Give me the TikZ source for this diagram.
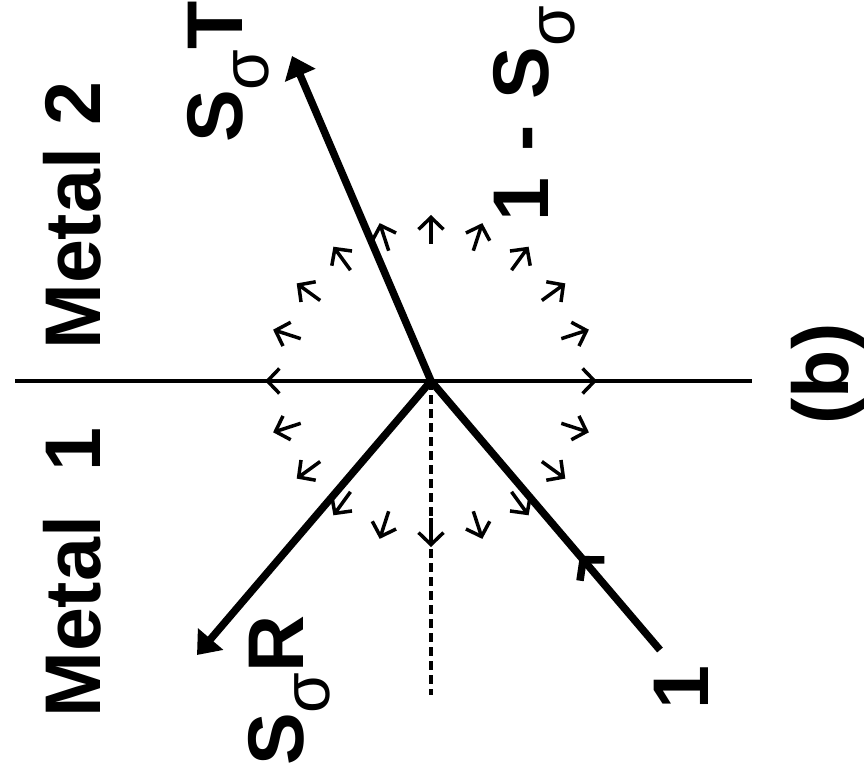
\documentclass[tikz,border=0pt]{standalone}
\usepackage{fontspec}
\setmainfont{Liberation Sans}
\usepackage{tikz}
\usetikzlibrary{arrows.meta,decorations.markings,positioning}

\newcommand{\sig}{\raisebox{-26pt}{\fontsize{66}{66}\selectfont\mdseries σ}}

\begin{document}
\begin{tikzpicture}[
    x=1pt, y=-1pt,
    lbl/.style={rotate=90, inner sep=0pt, font=\fontsize{79}{79}\selectfont\bfseries},
    beam/.style={line width=7.5pt, -{Triangle[length=21pt,width=32pt]}},
    wall/.style={line width=4pt},
    flux/.style={line width=3.5pt, -{Straight Barb[length=12pt,width=25pt]}}
]
\useasboundingbox (0,0) rectangle (864,783);

\coordinate (O) at (431,381);
\coordinate (wl) at (15,381);
\coordinate (wr) at (752,381);
\coordinate (db) at (431,695);
\coordinate (tT) at (292,56);
\coordinate (tR) at (197,655);
\coordinate (in) at (660,650);

\draw[wall] (wl) -- (wr);
\draw[line width=3.5pt, dash pattern=on 9pt off 5pt] (O) -- (db);

\foreach \a in {0,18,...,342}
    \draw[flux] ([shift={(\a:137)}]O) -- ([shift={(\a:166)}]O);

\draw[beam] (O) -- (tT);
\draw[beam] (O) -- (tR);
\draw[line width=7.5pt, postaction={decorate},
    decoration={markings, mark=at position 0.35 with {\arrow{Straight Barb[length=14pt,width=32pt]}}}]
    (in) -- (O);

\node[lbl, anchor=base west] (m2) at (100,350) {Metal 2};
\node[lbl, anchor=base west] (m1) at (100,718) {Metal\hspace{22pt} 1};
\node[lbl, anchor=base west] (st) at (242,143) {S\sig T};
\node[lbl, anchor=base west] (rs) at (548,222) {1\hspace{4pt} - \hspace{4pt}S\sig};
\node[lbl, anchor=base west] (sr) at (303,766) {S\sig R};
\node[lbl, anchor=base west] (inc) at (708,710) {1};
\node[lbl, anchor=base] (cap) at (848,374) {(b)};
\end{tikzpicture}
\end{document}
